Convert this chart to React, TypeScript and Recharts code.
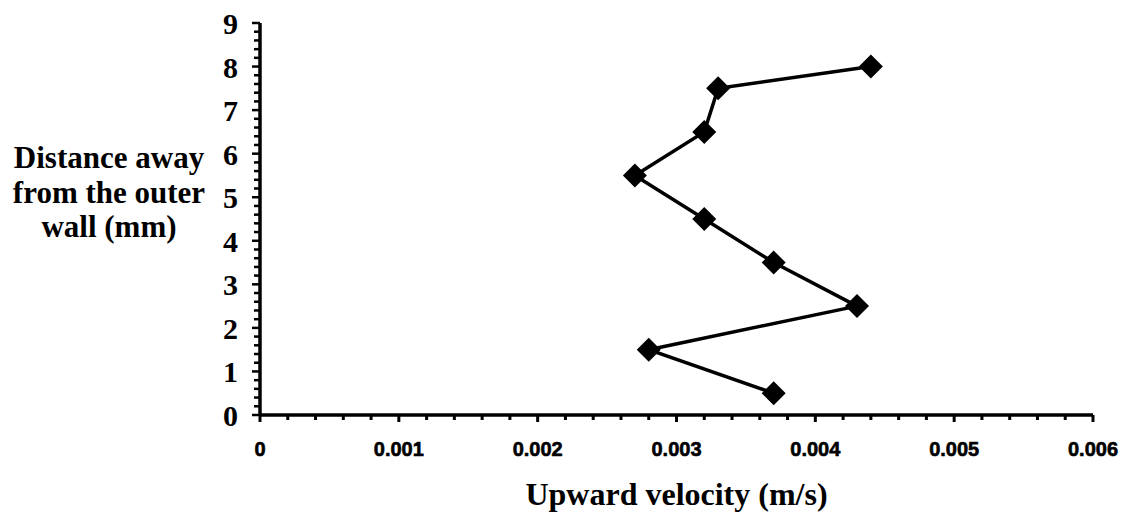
import { ScatterChart, Scatter, XAxis, YAxis, Label } from 'recharts'

// velocity (m/s) against distance from the outer wall (mm)
const velocity = [0.0037, 0.0028, 0.0043, 0.0037, 0.0032, 0.0027, 0.0032, 0.0033, 0.0044]
const distance = [0.5, 1.5, 2.5, 3.5, 4.5, 5.5, 6.5, 7.5, 8]

const xMajorTicks = [0, 0.001, 0.002, 0.003, 0.004, 0.005, 0.006]
const yMajorTicks = [0, 1, 2, 3, 4, 5, 6, 7, 8, 9]

const xTicks: number[] = []
for (let i = 0; i <= 30; i++) xTicks.push(+(i * 0.0002).toFixed(4))
const yTicks: number[] = []
for (let i = 0; i <= 45; i++) yTicks.push(+(i * 0.2).toFixed(1))

const data = velocity.map((v, i) => ({ v, d: distance[i] }))

const serif = '"Liberation Serif", "Times New Roman", serif'
const sans = '"Liberation Sans", Arial, sans-serif'

const isMajor = (val: number, majors: number[]) => majors.some(m => Math.abs(m - val) < 1e-9)

const XTick = (props: any) => {
  const { x, y, payload } = props
  const major = isMajor(payload.value, xMajorTicks)
  return (
    <g>
      <line x1={x} x2={x} y1={y} y2={y + (major ? 7 : 5)} stroke="#000" strokeWidth={3} />
      {major && (
        <text x={x} y={y + 41} textAnchor="middle" fontFamily={sans} fontWeight="bold" fontSize={20}
          fill="#000" stroke="#000" strokeWidth={0.6}>
          {String(payload.value)}
        </text>
      )}
    </g>
  )
}

const YTick = (props: any) => {
  const { x, y, payload } = props
  const major = isMajor(payload.value, yMajorTicks)
  return (
    <g>
      <line x1={x} x2={x - (major ? 8 : 6)} y1={y} y2={y} stroke="#000" strokeWidth={2.5} />
      {major && (
        <text x={x - 22} y={y + 11} textAnchor="end" fontFamily={serif} fontWeight="bold" fontSize={30} fill="#000">
          {payload.value}
        </text>
      )}
    </g>
  )
}

const Diamond = (props: any) => {
  const { cx, cy } = props
  const r = 12
  return <polygon points={`${cx},${cy - r} ${cx + r},${cy} ${cx},${cy + r} ${cx - r},${cy}`} fill="#000" />
}

const YLabel = (props: any) => {
  const { viewBox } = props
  const cy = viewBox.y + viewBox.height / 2
  const cx = 109
  const lines = ['Distance away', 'from the outer', 'wall (mm)']
  return (
    <text textAnchor="middle" fontFamily={serif} fontWeight="bold" fontSize={31} fill="#000">
      {lines.map((l, i) => (
        <tspan key={i} x={cx} y={cy - 51 + i * 34.5}>{l}</tspan>
      ))}
    </text>
  )
}

const XLabel = (props: any) => {
  const { viewBox } = props
  return (
    <text
      x={viewBox.x + viewBox.width / 2} y={viewBox.y + 90} textAnchor="middle"
      fontFamily={serif} fontWeight="bold" fontSize={32} fill="#000"
    >
      Upward velocity (m/s)
    </text>
  )
}

export default function App() {
  return (
    <div style={{ position: 'absolute', left: 0, top: 0, background: '#fff' }}>
      <ScatterChart width={1126} height={513} margin={{ top: 23, right: 33, left: 200, bottom: 38 }}>
        <XAxis
          type="number" dataKey="v" domain={[0, 0.006]} ticks={xTicks} interval={0}
          tickSize={0} tickMargin={0} tickLine={false} tick={<XTick />}
          axisLine={{ stroke: '#000', strokeWidth: 3.5 }} height={60}
        >
          <Label content={<XLabel />} />
        </XAxis>
        <YAxis
          type="number" dataKey="d" domain={[0, 9]} ticks={yTicks} interval={0}
          tickSize={0} tickMargin={0} tickLine={false} tick={<YTick />}
          axisLine={{ stroke: '#000', strokeWidth: 3.5 }} width={60}
        >
          <Label content={<YLabel />} />
        </YAxis>
        <Scatter
          data={data} shape={<Diamond />} fill="#000"
          line={{ stroke: '#000', strokeWidth: 3.5 }} isAnimationActive={false}
        />
      </ScatterChart>
    </div>
  )
}
